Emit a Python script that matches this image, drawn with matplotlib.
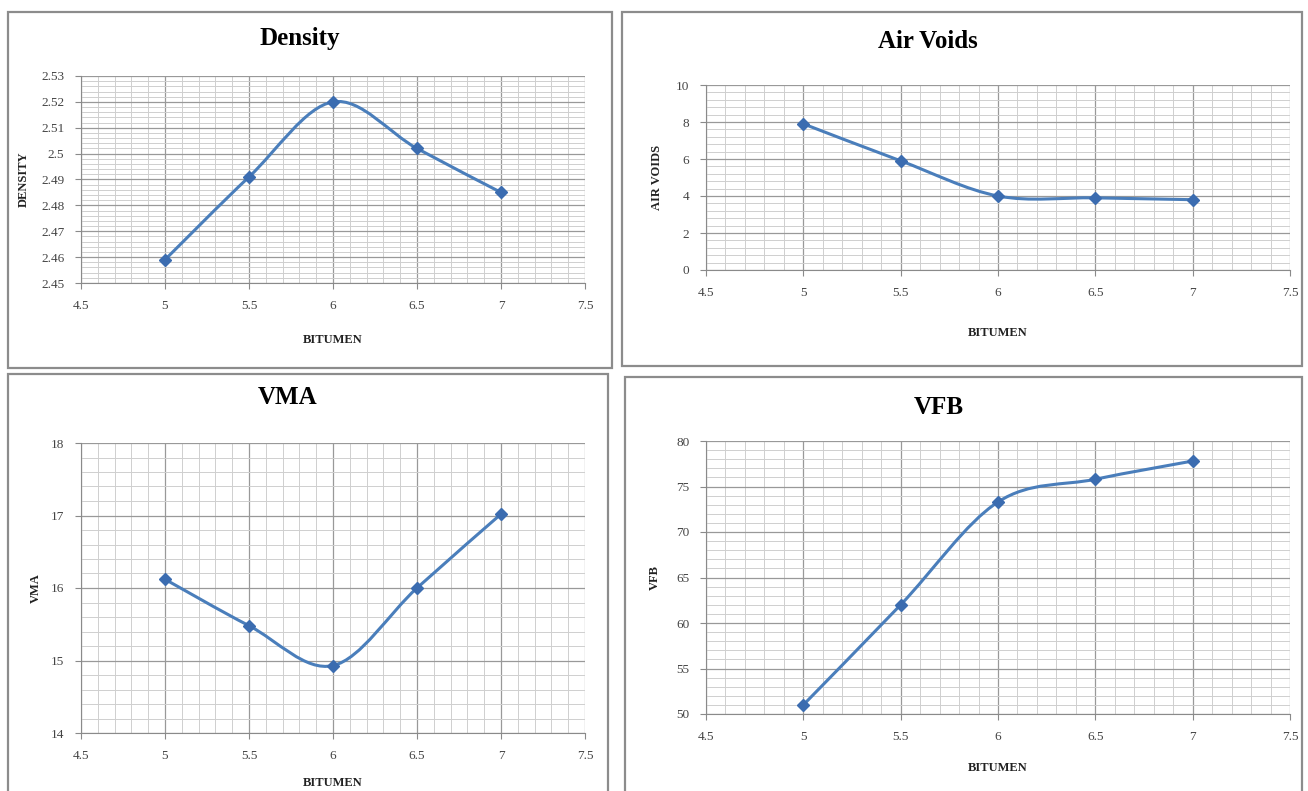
#Marshall test results vs bitumen content, four Excel-style panels
import matplotlib.pyplot as plt
from matplotlib.patches import Rectangle, PathPatch
from matplotlib.path import Path
from matplotlib.ticker import MultipleLocator, FuncFormatter

W, H = 1308, 791

bitumen = [5, 5.5, 6, 6.5, 7]
density = [2.459, 2.491, 2.520, 2.502, 2.485]
air_voids = [7.9, 5.9, 4.0, 3.9, 3.8]
vma = [16.12, 15.48, 14.93, 16.0, 17.02]
vfb = [51.0, 62.0, 73.3, 75.8, 77.8]

LINE = '#4A7EBB'
MARK = '#3B6CB0'
SERIF = 'Liberation Serif'


def fx(x):
    return x / W


def fy(y):
    return 1 - y / H


def smooth_path(xs, ys):
    # excel style smoothed line (bezier through every point)
    pts = list(zip(xs, ys))
    verts = [pts[0]]
    codes = [Path.MOVETO]
    n = len(pts)
    for i in range(n - 1):
        p0 = pts[i - 1] if i > 0 else pts[i]
        p1 = pts[i]
        p2 = pts[i + 1]
        p3 = pts[i + 2] if i + 2 < n else pts[i + 1]
        c1 = (p1[0] + (p2[0] - p0[0]) / 6, p1[1] + (p2[1] - p0[1]) / 6)
        c2 = (p2[0] - (p3[0] - p1[0]) / 6, p2[1] - (p3[1] - p1[1]) / 6)
        verts += [c1, c2, p2]
        codes += [Path.CURVE4] * 3
    return Path(verts, codes)


def fmt(v, p):
    return '{:g}'.format(round(v, 3))


def panel(fig, box, area, title, title_xy, ylab, ylab_x, xlab_y,
          y, ylim, ymaj, ymin):
    x0, y0, x1, y1 = box
    fig.patches.append(Rectangle((fx(x0), fy(y1)), fx(x1 - x0), (y1 - y0) / H,
                                 transform=fig.transFigure, fill=False,
                                 edgecolor='#8c8c8c', linewidth=1.6))
    l, t, r, b = area
    ax = fig.add_axes([fx(l), fy(b), fx(r - l), (b - t) / H])
    ax.set_xlim(4.5, 7.5)
    ax.set_ylim(*ylim)
    ax.xaxis.set_major_locator(MultipleLocator(0.5))
    ax.xaxis.set_minor_locator(MultipleLocator(0.1))
    ax.yaxis.set_major_locator(MultipleLocator(ymaj))
    ax.yaxis.set_minor_locator(MultipleLocator(ymin))
    ax.xaxis.set_major_formatter(FuncFormatter(fmt))
    ax.yaxis.set_major_formatter(FuncFormatter(fmt))
    ax.grid(which='major', color='#999999', linewidth=0.9)
    ax.grid(which='minor', color='#cfcfcf', linewidth=0.7)
    ax.set_axisbelow(True)
    for s in ['top', 'right']:
        ax.spines[s].set_visible(False)
    for s in ['left', 'bottom']:
        ax.spines[s].set_color('#8a8a8a')
    ax.tick_params(which='major', length=4, color='#8a8a8a', labelsize=9.5,
                   labelcolor='#444444', pad=8)
    ax.tick_params(which='minor', length=0)
    for lab in ax.get_xticklabels() + ax.get_yticklabels():
        lab.set_family(SERIF)

    ax.add_patch(PathPatch(smooth_path(bitumen, y), facecolor='none',
                           edgecolor=LINE, linewidth=2.2, zorder=3))
    ax.plot(bitumen, y, linestyle='none', marker='D', markersize=6.5,
            color=MARK, zorder=4)

    fig.text(fx(title_xy[0]), fy(title_xy[1]), title, ha='center', va='center',
             fontsize=18, fontweight='bold', family=SERIF)
    fig.text(fx(ylab_x), fy((t + b) / 2), ylab, rotation=90, ha='center',
             va='center', fontsize=9, fontweight='bold', family=SERIF, color='#222222')
    fig.text(fx((l + r) / 2), fy(xlab_y), 'BITUMEN', ha='center', va='center',
             fontsize=9, fontweight='bold', family=SERIF, color='#222222')
    return ax


fig = plt.figure(figsize=(W / 100, H / 100), dpi=100)

panel(fig, (8, 12, 612, 368), (81, 76, 585, 283), 'Density', (300, 38),
      'DENSITY', 24, 340, density, (2.45, 2.53), 0.01, 0.002)
panel(fig, (622, 12, 1302, 366), (706, 85, 1290, 270), 'Air Voids', (928, 42),
      'AIR VOIDS', 657, 333, air_voids, (0, 10), 2, 0.4)
panel(fig, (8, 374, 608, 800), (81, 443, 585, 733), 'VMA', (288, 397),
      'VMA', 36, 783, vma, (14, 18), 1, 0.2)
panel(fig, (625, 377, 1302, 800), (706, 441, 1290, 714), 'VFB', (939, 408),
      'VFB', 655, 768, vfb, (50, 80), 5, 1)

plt.savefig('out.png', dpi=100)
